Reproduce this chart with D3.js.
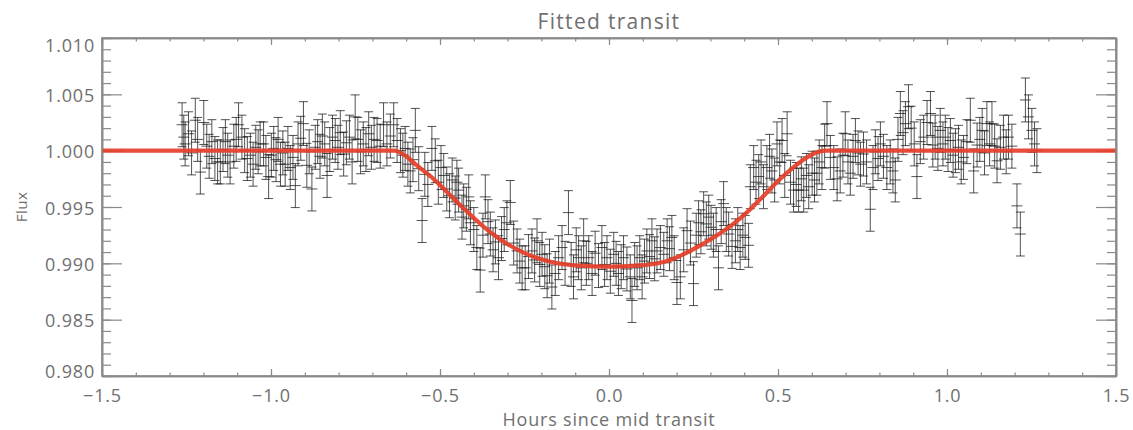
<!DOCTYPE html>
<html>
<head>
<meta charset="utf-8">
<script src="https://cdn.jsdelivr.net/npm/d3@7"></script>
<style>
  html, body { margin: 0; padding: 0; background: #fff; overflow: hidden; }
  svg { display: block; }
  text { font-family: "Open Sans", "DejaVu Sans", sans-serif; fill: #707070; }
</style>
</head>
<body>
<svg id="chart" width="1133" height="430"></svg>
<script>
// Observed light curve: time from mid transit (hours) and normalised flux
const hours = [
  -1.263, -1.258, -1.254, -1.244, -1.235, -1.224, -1.217, -1.209, -1.199, -1.190,
  -1.183, -1.175, -1.166, -1.158, -1.150, -1.142, -1.135, -1.128, -1.121, -1.110,
  -1.103, -1.096, -1.086, -1.078, -1.070, -1.061, -1.053, -1.045, -1.038, -1.032,
  -1.022, -1.015, -1.007, -0.999, -0.992, -0.985, -0.979, -0.972, -0.965, -0.958,
  -0.950, -0.943, -0.935, -0.928, -0.920, -0.912, -0.904, -0.894, -0.887, -0.879,
  -0.869, -0.862, -0.855, -0.848, -0.841, -0.834, -0.826, -0.818, -0.810, -0.802,
  -0.795, -0.785, -0.777, -0.768, -0.760, -0.751, -0.743, -0.735, -0.727, -0.719,
  -0.711, -0.703, -0.695, -0.686, -0.677, -0.667, -0.657, -0.647, -0.637, -0.627,
  -0.617, -0.610, -0.603, -0.595, -0.588, -0.580, -0.573, -0.563, -0.553, -0.545,
  -0.536, -0.524, -0.514, -0.505, -0.497, -0.489, -0.480, -0.472, -0.464, -0.455,
  -0.450, -0.445, -0.435, -0.430, -0.422, -0.415, -0.410, -0.400, -0.391, -0.381,
  -0.373, -0.366, -0.358, -0.351, -0.343, -0.336, -0.327, -0.318, -0.310, -0.302,
  -0.292, -0.282, -0.272, -0.264, -0.257, -0.248, -0.238, -0.228, -0.220, -0.213,
  -0.205, -0.198, -0.190, -0.183, -0.176, -0.169, -0.159, -0.149, -0.139, -0.130,
  -0.120, -0.112, -0.105, -0.097, -0.090, -0.082, -0.075, -0.067, -0.060, -0.050,
  -0.041, -0.031, -0.021, -0.013, -0.006,  0.004,  0.014,  0.021,  0.028,  0.036,
   0.043,  0.053,  0.063,  0.068,  0.076,  0.083,  0.091,  0.098,  0.105,  0.112,
   0.120,  0.127,  0.135,  0.142,  0.152,  0.162,  0.172,  0.179,  0.186,  0.193,
   0.201,  0.211,  0.221,  0.231,  0.241,  0.250,  0.258,  0.265,  0.272,  0.280,
   0.288,  0.295,  0.302,  0.309,  0.317,  0.324,  0.332,  0.339,  0.347,  0.354,
   0.364,  0.374,  0.381,  0.388,  0.396,  0.403,  0.413,  0.418,  0.428,  0.435,
   0.443,  0.450,  0.457,  0.467,  0.475,  0.482,  0.490,  0.497,  0.505,  0.512,
   0.520,  0.527,  0.537,  0.546,  0.554,  0.561,  0.569,  0.576,  0.584,  0.591,
   0.601,  0.608,  0.615,  0.622,  0.630,  0.638,  0.645,  0.655,  0.665,  0.675,
   0.684,  0.692,  0.699,  0.707,  0.714,  0.722,  0.729,  0.737,  0.744,  0.753,
   0.762,  0.773,  0.781,  0.788,  0.796,  0.803,  0.812,  0.822,  0.832,  0.840,
   0.847,  0.855,  0.862,  0.870,  0.877,  0.886,  0.894,  0.903,  0.911,  0.921,
   0.931,  0.941,  0.951,  0.958,  0.965,  0.973,  0.980,  0.988,  0.995,  1.003,
   1.010,  1.018,  1.025,  1.034,  1.042,  1.049,  1.059,  1.069,  1.079,  1.089,
   1.097,  1.104,  1.111,  1.118,  1.126,  1.133,  1.141,  1.148,  1.158,  1.167,
   1.175,  1.182,  1.192,  1.207,  1.217,  1.232,  1.241,  1.251,  1.259,  1.266
];
const flux = [
  1.0023, 1.0012, 1.0006, 1.0015, 0.9998, 1.0027, 1.0010, 0.9981, 1.0025, 1.0004,
  0.9995, 1.0008, 0.9993, 0.9990, 0.9990, 1.0001, 1.0008, 0.9996, 0.9990, 1.0004,
  1.0010, 1.0023, 1.0012, 1.0000, 0.9993, 0.9996, 0.9988, 1.0003, 0.9999, 1.0006,
  1.0006, 0.9994, 0.9977, 0.9996, 1.0002, 0.9992, 1.0010, 0.9988, 0.9998, 0.9988,
  1.0002, 0.9985, 0.9994, 0.9969, 1.0006, 1.0011, 1.0024, 0.9987, 0.9999, 0.9966,
  1.0003, 1.0008, 0.9995, 1.0013, 1.0006, 0.9978, 1.0001, 1.0012, 1.0009, 1.0003,
  1.0016, 0.9997, 1.0007, 1.0012, 0.9990, 1.0030, 1.0010, 0.9999, 1.0006, 1.0001,
  1.0015, 1.0003, 1.0010, 1.0009, 1.0004, 1.0023, 1.0006, 1.0013, 1.0023, 1.0009,
  1.0000, 0.9996, 1.0002, 0.9988, 0.9982, 0.9992, 1.0018, 0.9984, 0.9938, 0.9979,
  0.9970, 1.0002, 0.9991, 0.9972, 0.9985, 0.9978, 0.9966, 0.9960, 0.9974, 0.9958,
  0.9972, 0.9965, 0.9941, 0.9951, 0.9948, 0.9959, 0.9936, 0.9930, 0.9914, 0.9894,
  0.9925, 0.9959, 0.9937, 0.9926, 0.9912, 0.9919, 0.9905, 0.9922, 0.9930, 0.9936,
  0.9954, 0.9918, 0.9911, 0.9902, 0.9896, 0.9896, 0.9906, 0.9911, 0.9903, 0.9920,
  0.9899, 0.9908, 0.9897, 0.9889, 0.9902, 0.9879, 0.9891, 0.9905, 0.9914, 0.9900,
  0.9945, 0.9899, 0.9888, 0.9912, 0.9905, 0.9896, 0.9920, 0.9900, 0.9905, 0.9891,
  0.9909, 0.9898, 0.9914, 0.9899, 0.9905, 0.9893, 0.9908, 0.9900, 0.9891, 0.9897,
  0.9905, 0.9895, 0.9888, 0.9867, 0.9899, 0.9896, 0.9905, 0.9888, 0.9902, 0.9911,
  0.9906, 0.9920, 0.9904, 0.9911, 0.9914, 0.9908, 0.9920, 0.9913, 0.9923, 0.9905,
  0.9883, 0.9888, 0.9912, 0.9929, 0.9918, 0.9882, 0.9925, 0.9936, 0.9928, 0.9944,
  0.9935, 0.9941, 0.9932, 0.9925, 0.9930, 0.9896, 0.9937, 0.9953, 0.9930, 0.9926,
  0.9915, 0.9920, 0.9930, 0.9914, 0.9925, 0.9923, 0.9916, 0.9968, 0.9985, 0.9972,
  0.9977, 0.9990, 0.9968, 0.9985, 0.9995, 0.9982, 0.9974, 1.0006, 0.9990, 1.0009,
  0.9978, 1.0015, 0.9972, 0.9965, 0.9970, 0.9965, 0.9975, 0.9965, 0.9978, 0.9968,
  0.9980, 0.9974, 0.9980, 0.9990, 0.9985, 1.0004, 1.0024, 0.9994, 0.9985, 0.9975,
  0.9982, 0.9996, 1.0015, 0.9990, 0.9980, 0.9995, 1.0009, 0.9998, 0.9988, 0.9997,
  0.9990, 0.9948, 0.9985, 0.9999, 0.9993, 1.0006, 0.9995, 0.9985, 0.9990, 0.9982,
  0.9974, 1.0010, 1.0033, 1.0016, 1.0024, 1.0039, 1.0020, 1.0006, 0.9977, 1.0008,
  1.0012, 1.0025, 1.0033, 1.0005, 1.0012, 1.0002, 1.0018, 1.0006, 1.0012, 1.0001,
  1.0009, 0.9996, 1.0000, 1.0003, 0.9990, 0.9994, 1.0008, 1.0027, 0.9982, 1.0005,
  1.0010, 1.0018, 0.9998, 1.0024, 1.0006, 1.0024, 1.0004, 0.9991, 1.0003, 1.0012,
  0.9999, 1.0012, 1.0004, 0.9951, 0.9926, 1.0045, 1.0030, 1.0018, 1.0006, 1.0000
];
// One-sigma flux uncertainty of each measurement
const fluxError = 0.00195;

// Fitted transit model, sampled at these times
const modelHours = [-1.5, -0.635, -0.600, -0.573, -0.523, -0.475, -0.431, -0.357, -0.300,
  -0.256, -0.168, -0.090, 0.000, 0.080, 0.122, 0.172, 0.220, 0.270, 0.320, 0.368,
  0.418, 0.448, 0.507, 0.566, 0.610, 0.640, 1.5];
const modelFlux = [1.0000, 1.0000, 0.9995, 0.9988, 0.9976, 0.9962, 0.9949, 0.9929, 0.9917,
  0.9910, 0.9901, 0.9898, 0.9897, 0.9898, 0.9899, 0.9902, 0.9908, 0.9916, 0.9925, 0.9935,
  0.9948, 0.9957, 0.9975, 0.9990, 0.9998, 1.0000, 1.0000];

// Axis ticks
const xMajorTicks = [-1.5, -1.0, -0.5, 0.0, 0.5, 1.0, 1.5];
const xTickLabels = ["\u22121.5", "\u22121.0", "\u22120.5", "0.0", "0.5", "1.0", "1.5"];
const yMajorTicks = [0.980, 0.985, 0.990, 0.995, 1.000, 1.005, 1.010];
const yTickLabels = ["0.980", "0.985", "0.990", "0.995", "1.000", "1.005", "1.010"];
const xMinorTicks = d3.range(-15, 16).map(i => i / 10);
const yMinorTicks = d3.range(980, 1011).map(i => i / 1000);

const plotLeft = 102, plotRight = 1116, plotTop = 38, plotBottom = 376;
const svg = d3.select("#chart");

const x = d3.scaleLinear().domain([-1.5, 1.5]).range([plotLeft, plotRight]);
const y = d3.scaleLinear().domain([0.980, 1.010]).range([plotBottom, plotTop]);

const axisColor = "#8a8a8a";

function styleAxis(g) {
  g.selectAll("path.domain").attr("stroke", axisColor).attr("stroke-width", 1.6);
  g.selectAll(".tick line").attr("stroke", axisColor).attr("stroke-width", 1.2);
  g.selectAll(".tick text").attr("fill", "#707070").style("font-size", "18px")
    .style("letter-spacing", "0.8px")
    .style("font-family", "'Open Sans', 'DejaVu Sans', sans-serif");
}

// Minor ticks on all four sides
svg.append("g").attr("transform", `translate(0,${plotBottom})`)
  .call(d3.axisBottom(x).tickValues(xMinorTicks).tickSize(-3.5).tickFormat("").tickSizeOuter(0))
  .call(styleAxis);
svg.append("g").attr("transform", `translate(0,${plotTop})`)
  .call(d3.axisTop(x).tickValues(xMinorTicks).tickSize(-3.5).tickFormat("").tickSizeOuter(0))
  .call(styleAxis);
svg.append("g").attr("transform", `translate(${plotLeft},0)`)
  .call(d3.axisLeft(y).tickValues(yMinorTicks).tickSize(-9).tickFormat("").tickSizeOuter(0))
  .call(styleAxis);
svg.append("g").attr("transform", `translate(${plotRight},0)`)
  .call(d3.axisRight(y).tickValues(yMinorTicks).tickSize(-9).tickFormat("").tickSizeOuter(0))
  .call(styleAxis);

// Major ticks with labels on the bottom and left
svg.append("g").attr("transform", `translate(0,${plotBottom})`)
  .call(d3.axisBottom(x).tickValues(xMajorTicks).tickSize(-7).tickSizeOuter(0).tickPadding(13)
    .tickFormat((d, i) => xTickLabels[i]))
  .call(styleAxis);
svg.append("g").attr("transform", `translate(0,${plotTop})`)
  .call(d3.axisTop(x).tickValues(xMajorTicks).tickSize(-7).tickSizeOuter(0).tickFormat(""))
  .call(styleAxis);
const yAxisG = svg.append("g").attr("transform", `translate(${plotLeft},0)`)
  .call(d3.axisLeft(y).tickValues(yMajorTicks).tickSize(-20).tickSizeOuter(0).tickPadding(7)
    .tickFormat((d, i) => yTickLabels[i]))
  .call(styleAxis);
svg.append("g").attr("transform", `translate(${plotRight},0)`)
  .call(d3.axisRight(y).tickValues(yMajorTicks).tickSize(-20).tickSizeOuter(0).tickFormat(""))
  .call(styleAxis);

// Keep the end labels of the flux axis inside the frame
yAxisG.selectAll(".tick text").attr("y", d => {
  const py = y(d);
  const target = Math.max(plotTop + 8, Math.min(plotBottom - 4, py + 1.5));
  return target - py;
});

// Error bars with caps and plus markers
const pts = hours.map((h, i) => ({ h, f: flux[i] }));
const capHalf = 4.5, markHalf = 5.5;
const eb = svg.append("g").attr("stroke", "#111").attr("stroke-width", 1).attr("stroke-opacity", 0.72)
  .attr("fill", "none");
eb.selectAll("path.err").data(pts).join("path").attr("class", "err")
  .attr("d", d => {
    const px = x(d.h), y0 = y(d.f + fluxError), y1 = y(d.f - fluxError), py = y(d.f);
    return `M${px},${y0}V${y1}` +
      `M${px - capHalf},${y0}H${px + capHalf}` +
      `M${px - capHalf},${y1}H${px + capHalf}` +
      `M${px - markHalf},${py}H${px + markHalf}`;
  });

// Fitted model
const model = modelHours.map((h, i) => ({ h, f: modelFlux[i] }));
svg.append("path").datum(model)
  .attr("fill", "none").attr("stroke", "#e63e28").attr("stroke-width", 4.2)
  .attr("stroke-opacity", 0.92).attr("stroke-linejoin", "round")
  .attr("d", d3.line().x(d => x(d.h)).y(d => y(d.f)).curve(d3.curveMonotoneX));

// Frame drawn on top
svg.append("rect").attr("x", plotLeft).attr("y", plotTop)
  .attr("width", plotRight - plotLeft).attr("height", plotBottom - plotTop)
  .attr("fill", "none").attr("stroke", axisColor).attr("stroke-width", 1.6);

// Titles
svg.append("text").attr("x", (plotLeft + plotRight) / 2).attr("y", 29).attr("text-anchor", "middle")
  .style("font-size", "21px").style("letter-spacing", "1.3px").text("Fitted transit");
svg.append("text").attr("x", (plotLeft + plotRight) / 2).attr("y", 426).attr("text-anchor", "middle")
  .style("font-size", "18px").style("letter-spacing", "0.8px").text("Hours since mid transit");
svg.append("text").attr("transform", `translate(27,${(plotTop + plotBottom) / 2}) rotate(-90)`)
  .attr("text-anchor", "middle").style("font-size", "15px").style("letter-spacing", "0.5px").text("Flux");
</script>
</body>
</html>
